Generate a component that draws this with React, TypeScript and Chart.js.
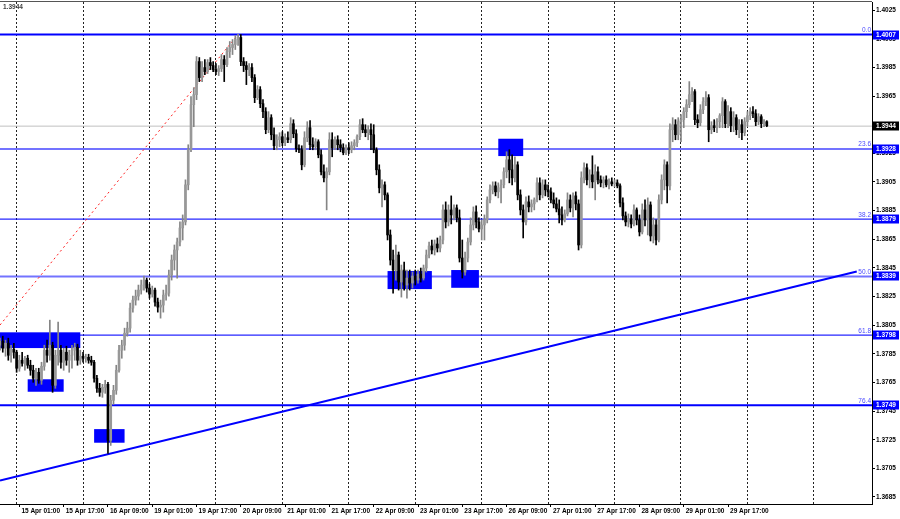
import React, { useEffect, useRef } from "react";
import { Chart, registerables } from "chart.js";

Chart.register(...registerables);

// ---- DATA ----
// bar index 0 = 15 Apr 01:00 (H1 bars); first bar shown has index -7
const FIRST_BAR = -7;

const opens = [
  1.37910,1.37938,1.37889,1.37924,1.37840,1.37882,1.37861,1.37749,1.37805,1.37784,
  1.37819,1.37770,1.37735,1.37679,1.37721,1.37665,1.37763,1.37875,1.37840,1.37910,
  1.37630,1.37840,1.37875,1.37791,1.37861,1.37805,1.37840,1.37875,1.37896,1.37805,
  1.37833,1.37819,1.37826,1.37805,1.37791,1.37679,1.37609,1.37581,1.37616,1.37637,
  1.37245,1.37525,1.37595,1.37735,1.37875,1.37910,1.37994,1.38029,1.38169,1.38225,
  1.38253,1.38295,1.38330,1.38365,1.38309,1.38267,1.38295,1.38211,1.38176,1.38190,
  1.38260,1.38274,1.38400,1.38505,1.38575,1.38631,1.38729,1.38771,1.39030,1.39275,
  1.39590,1.39660,1.39891,1.39779,1.39849,1.39821,1.39884,1.39863,1.39835,1.39821,
  1.39842,1.39905,1.39870,1.39961,1.39989,1.40010,1.40045,1.40059,1.39891,1.39863,
  1.39835,1.39849,1.39779,1.39639,1.39695,1.39597,1.39541,1.39415,1.39499,1.39380,
  1.39303,1.39345,1.39366,1.39324,1.39359,1.39345,1.39457,1.39387,1.39282,1.39275,
  1.39170,1.39359,1.39429,1.39310,1.39296,1.39331,1.39240,1.39121,1.39079,1.39121,
  1.39345,1.39289,1.39345,1.39310,1.39289,1.39254,1.39289,1.39275,1.39303,1.39324,
  1.39366,1.39450,1.39415,1.39394,1.39415,1.39380,1.39275,1.39135,1.39009,1.39030,
  1.38960,1.38680,1.38505,1.38435,1.38540,1.38351,1.38435,1.38330,1.38379,1.38344,
  1.38393,1.38365,1.38407,1.38379,1.38449,1.38540,1.38603,1.38575,1.38617,1.38589,
  1.38645,1.38855,1.38771,1.38855,1.38820,1.38869,1.38799,1.38519,1.38421,1.38519,
  1.38631,1.38750,1.38841,1.38771,1.38722,1.38750,1.38785,1.38925,1.38995,1.39023,
  1.38981,1.39009,1.39030,1.39121,1.39205,1.39135,1.39079,1.39170,1.38960,1.38855,
  1.38771,1.38911,1.38876,1.38897,1.38925,1.39044,1.38960,1.39030,1.38995,1.38981,
  1.38925,1.38897,1.38862,1.38820,1.38785,1.38827,1.38925,1.38869,1.38953,1.38897,
  1.38610,1.39079,1.39149,1.39065,1.39100,1.39051,1.39121,1.39065,1.39044,1.39065,
  1.39030,1.39051,1.39037,1.39044,1.39023,1.38904,1.38813,1.38771,1.38792,1.38757,
  1.38855,1.38785,1.38701,1.38855,1.38785,1.38890,1.38673,1.38750,1.38645,1.38925,
  1.39065,1.39170,1.39023,1.39415,1.39450,1.39380,1.39471,1.39485,1.39541,1.39590,
  1.39660,1.39681,1.39485,1.39464,1.39555,1.39611,1.39639,1.39415,1.39443,1.39429,
  1.39471,1.39513,1.39611,1.39457,1.39541,1.39443,1.39499,1.39415,1.39450,1.39394,
  1.39471,1.39513,1.39541,1.39527,1.39471,1.39506,1.39457,1.39471,
];

const highs = [
  1.37959,1.37973,1.37945,1.37959,1.37910,1.37924,1.37875,1.37840,1.37861,1.37833,
  1.37840,1.37805,1.37770,1.37749,1.37749,1.37791,1.37910,1.37945,1.38085,1.37931,
  1.37875,1.38071,1.37910,1.37889,1.37903,1.37875,1.37910,1.37924,1.37917,1.37875,
  1.37861,1.37847,1.37847,1.37833,1.37805,1.37700,1.37644,1.37637,1.37665,1.37651,
  1.37560,1.37630,1.37770,1.37910,1.37945,1.38029,1.38071,1.38204,1.38253,1.38295,
  1.38330,1.38365,1.38393,1.38379,1.38337,1.38323,1.38309,1.38239,1.38225,1.38295,
  1.38330,1.38435,1.38540,1.38610,1.38659,1.38771,1.38820,1.39065,1.39310,1.39646,
  1.39709,1.39926,1.39919,1.39891,1.39905,1.39905,1.39919,1.39891,1.39877,1.39863,
  1.39940,1.39933,1.39989,1.40031,1.40045,1.40073,1.40082,1.40080,1.39919,1.39891,
  1.39877,1.39877,1.39800,1.39723,1.39716,1.39625,1.39569,1.39541,1.39520,1.39429,
  1.39380,1.39394,1.39401,1.39387,1.39401,1.39499,1.39485,1.39415,1.39310,1.39303,
  1.39401,1.39471,1.39478,1.39359,1.39352,1.39345,1.39275,1.39170,1.39149,1.39394,
  1.39394,1.39366,1.39373,1.39345,1.39317,1.39310,1.39324,1.39331,1.39345,1.39380,
  1.39485,1.39492,1.39450,1.39443,1.39457,1.39450,1.39289,1.39170,1.39065,1.39051,
  1.38974,1.38715,1.38575,1.38610,1.38561,1.38470,1.38491,1.38435,1.38435,1.38421,
  1.38435,1.38435,1.38449,1.38470,1.38575,1.38631,1.38645,1.38645,1.38659,1.38673,
  1.38890,1.38911,1.38890,1.38953,1.38890,1.38890,1.38855,1.38645,1.38561,1.38659,
  1.38799,1.38876,1.38883,1.38799,1.38785,1.38820,1.38946,1.39030,1.39051,1.39051,
  1.39044,1.39065,1.39149,1.39261,1.39275,1.39240,1.39226,1.39191,1.38995,1.38890,
  1.38946,1.38953,1.38925,1.38939,1.39079,1.39079,1.39065,1.39065,1.39030,1.39009,
  1.38974,1.38939,1.38925,1.38876,1.38855,1.38974,1.38960,1.38974,1.38981,1.38925,
  1.39121,1.39184,1.39177,1.39135,1.39233,1.39170,1.39156,1.39093,1.39086,1.39093,
  1.39072,1.39079,1.39065,1.39065,1.39037,1.38939,1.38841,1.38827,1.38820,1.38890,
  1.38869,1.38820,1.38897,1.38925,1.38939,1.38911,1.38799,1.38785,1.38960,1.39100,
  1.39205,1.39191,1.39457,1.39499,1.39485,1.39499,1.39520,1.39569,1.39625,1.39751,
  1.39709,1.39695,1.39520,1.39590,1.39639,1.39681,1.39660,1.39471,1.39485,1.39492,
  1.39527,1.39639,1.39625,1.39583,1.39569,1.39541,1.39520,1.39485,1.39485,1.39499,
  1.39541,1.39569,1.39576,1.39555,1.39527,1.39520,1.39485,1.39478,
];

const lows = [
  1.37875,1.37861,1.37833,1.37805,1.37791,1.37819,1.37721,1.37728,1.37763,1.37735,
  1.37749,1.37700,1.37651,1.37630,1.37644,1.37637,1.37735,1.37791,1.37805,1.37581,
  1.37609,1.37770,1.37749,1.37735,1.37770,1.37721,1.37749,1.37805,1.37770,1.37777,
  1.37791,1.37791,1.37784,1.37770,1.37651,1.37581,1.37553,1.37546,1.37574,1.37154,
  1.37210,1.37497,1.37567,1.37721,1.37819,1.37875,1.37973,1.38001,1.38141,1.38190,
  1.38225,1.38267,1.38295,1.38281,1.38239,1.38246,1.38183,1.38141,1.38099,1.38141,
  1.38225,1.38253,1.38365,1.38435,1.38379,1.38603,1.38645,1.38750,1.38995,1.39261,
  1.39436,1.39625,1.39751,1.39751,1.39800,1.39807,1.39835,1.39821,1.39800,1.39793,
  1.39821,1.39751,1.39856,1.39919,1.39940,1.39975,1.40003,1.39863,1.39821,1.39730,
  1.39793,1.39751,1.39604,1.39625,1.39569,1.39499,1.39387,1.39394,1.39345,1.39275,
  1.39275,1.39296,1.39303,1.39303,1.39324,1.39324,1.39359,1.39261,1.39254,1.39135,
  1.39156,1.39331,1.39275,1.39275,1.39275,1.39219,1.39100,1.39051,1.38855,1.39100,
  1.39226,1.39275,1.39275,1.39261,1.39240,1.39240,1.39247,1.39254,1.39275,1.39296,
  1.39345,1.39394,1.39366,1.39345,1.39275,1.39254,1.39100,1.38974,1.38876,1.38925,
  1.38645,1.38470,1.38274,1.38365,1.38295,1.38246,1.38295,1.38239,1.38295,1.38309,
  1.38330,1.38344,1.38351,1.38365,1.38421,1.38519,1.38547,1.38540,1.38561,1.38561,
  1.38617,1.38729,1.38743,1.38757,1.38785,1.38771,1.38491,1.38379,1.38400,1.38491,
  1.38610,1.38715,1.38729,1.38701,1.38645,1.38645,1.38764,1.38904,1.38967,1.38953,
  1.38939,1.38904,1.39009,1.39079,1.39044,1.39030,1.39051,1.38925,1.38820,1.38659,
  1.38750,1.38841,1.38841,1.38855,1.38911,1.38925,1.38939,1.38953,1.38946,1.38904,
  1.38869,1.38841,1.38764,1.38750,1.38771,1.38813,1.38841,1.38806,1.38855,1.38575,
  1.38589,1.39044,1.39030,1.39009,1.39009,1.38925,1.39037,1.39016,1.39009,1.39016,
  1.39002,1.39023,1.39016,1.39009,1.38876,1.38785,1.38743,1.38736,1.38729,1.38743,
  1.38750,1.38673,1.38687,1.38743,1.38680,1.38638,1.38624,1.38610,1.38631,1.38897,
  1.38995,1.38904,1.38995,1.39331,1.39345,1.39345,1.39331,1.39429,1.39499,1.39569,
  1.39611,1.39450,1.39429,1.39443,1.39527,1.39583,1.39331,1.39387,1.39401,1.39394,
  1.39429,1.39429,1.39429,1.39429,1.39401,1.39401,1.39380,1.39359,1.39345,1.39373,
  1.39443,1.39485,1.39499,1.39443,1.39450,1.39429,1.39436,1.39436,
];

const closes = [
  1.37938,1.37889,1.37924,1.37840,1.37882,1.37861,1.37749,1.37805,1.37784,1.37819,
  1.37770,1.37735,1.37679,1.37721,1.37665,1.37763,1.37875,1.37840,1.37910,1.37630,
  1.37840,1.37875,1.37791,1.37861,1.37805,1.37840,1.37875,1.37896,1.37805,1.37833,
  1.37819,1.37826,1.37805,1.37791,1.37679,1.37609,1.37581,1.37616,1.37637,1.37245,
  1.37525,1.37595,1.37735,1.37875,1.37910,1.37994,1.38029,1.38169,1.38225,1.38253,
  1.38295,1.38330,1.38365,1.38309,1.38267,1.38295,1.38211,1.38176,1.38190,1.38260,
  1.38274,1.38400,1.38505,1.38575,1.38631,1.38729,1.38771,1.39030,1.39275,1.39590,
  1.39660,1.39891,1.39779,1.39849,1.39821,1.39884,1.39863,1.39835,1.39821,1.39842,
  1.39905,1.39870,1.39961,1.39989,1.40010,1.40045,1.40059,1.39891,1.39863,1.39835,
  1.39849,1.39779,1.39639,1.39695,1.39597,1.39541,1.39415,1.39499,1.39380,1.39303,
  1.39345,1.39366,1.39324,1.39359,1.39345,1.39457,1.39387,1.39282,1.39275,1.39170,
  1.39359,1.39429,1.39310,1.39296,1.39331,1.39240,1.39121,1.39079,1.39121,1.39345,
  1.39289,1.39345,1.39310,1.39289,1.39254,1.39289,1.39275,1.39303,1.39324,1.39366,
  1.39450,1.39415,1.39394,1.39415,1.39380,1.39275,1.39135,1.39009,1.39030,1.38960,
  1.38680,1.38505,1.38435,1.38540,1.38351,1.38435,1.38330,1.38379,1.38344,1.38393,
  1.38365,1.38407,1.38379,1.38449,1.38540,1.38603,1.38575,1.38617,1.38589,1.38645,
  1.38855,1.38771,1.38855,1.38820,1.38869,1.38799,1.38519,1.38421,1.38519,1.38631,
  1.38750,1.38841,1.38771,1.38722,1.38750,1.38785,1.38925,1.38995,1.39023,1.38981,
  1.39009,1.39030,1.39121,1.39205,1.39135,1.39079,1.39170,1.38960,1.38855,1.38771,
  1.38911,1.38876,1.38897,1.38925,1.39044,1.38960,1.39030,1.38995,1.38981,1.38925,
  1.38897,1.38862,1.38820,1.38785,1.38827,1.38925,1.38869,1.38953,1.38897,1.38610,
  1.39079,1.39149,1.39065,1.39100,1.39051,1.39121,1.39065,1.39044,1.39065,1.39030,
  1.39051,1.39037,1.39044,1.39023,1.38904,1.38813,1.38771,1.38792,1.38757,1.38855,
  1.38785,1.38701,1.38855,1.38785,1.38890,1.38673,1.38750,1.38645,1.38925,1.39065,
  1.39170,1.39023,1.39415,1.39450,1.39380,1.39471,1.39485,1.39541,1.39590,1.39660,
  1.39681,1.39485,1.39464,1.39555,1.39611,1.39639,1.39415,1.39443,1.39429,1.39471,
  1.39513,1.39611,1.39457,1.39541,1.39443,1.39499,1.39415,1.39450,1.39394,1.39471,
  1.39513,1.39541,1.39527,1.39471,1.39506,1.39457,1.39471,1.39443,
];

// time axis labels (bar index of each label) and daily separators
const xTickIndex = [0, 16, 32, 48, 64, 80, 96, 112, 128, 144, 160, 176, 192, 208, 224, 240, 256];
const xTickLabels = [
  "15 Apr 01:00", "15 Apr 17:00", "16 Apr 09:00", "19 Apr 01:00", "19 Apr 17:00",
  "20 Apr 09:00", "21 Apr 01:00", "21 Apr 17:00", "22 Apr 09:00", "23 Apr 01:00",
  "23 Apr 17:00", "26 Apr 09:00", "27 Apr 01:00", "27 Apr 17:00", "28 Apr 09:00",
  "29 Apr 01:00", "29 Apr 17:00",
];
const dayGridIndex = [-1, 23, 47, 71, 95, 119, 143, 167, 191, 215, 239, 263, 287];

const yTicks = [
  1.3685, 1.3705, 1.3725, 1.3745, 1.3765, 1.3785, 1.3805, 1.3825, 1.3845,
  1.3865, 1.3885, 1.3905, 1.3925, 1.3945, 1.3965, 1.3985, 1.4005, 1.4025,
];

// Fibonacci levels
const fibNames = ["0.0", "23.6", "38.2", "50.0", "61.8", "76.4"];
const fibPrices = [1.4008, 1.3928, 1.3879, 1.3839, 1.3798, 1.3749];
const fibTags = ["1.4007", "1.3928", "1.3879", "1.3839", "1.3798", "1.3749"];
const lastPrice = 1.3944;
const lastPriceTag = "1.3944";

// blue zones: start bar, end bar, low price, high price
const boxStart = [-7, 3, 27, 133, 156, 173];
const boxEnd = [22, 16, 38, 149, 166, 182];
const boxLow = [1.3789, 1.37585, 1.37229, 1.38302, 1.38311, 1.39231];
const boxHigh = [1.38, 1.37672, 1.37324, 1.38428, 1.38435, 1.39352];

// trend line and fibonacci base line (bar index, price)
const trendX = [-7, 302.5];
const trendY = [1.36965, 1.38425];
const fibBaseX = [-7, 79];
const fibBaseY = [1.38051, 1.4008];

const X_MIN = -7;
const X_MAX = 308;
const Y_MIN = 1.36801;
const Y_MAX = 1.40307;

// ---- STYLES ----
const FONT_FAMILY = "'Liberation Sans', Arial, sans-serif";
const FONT_SIZE = 6.5;
const FONT_WEIGHT = "bold";
const fibColors = ["#0000ff", "rgba(0,0,255,0.55)", "rgba(0,0,255,0.85)", "rgba(0,0,255,0.55)", "rgba(0,0,255,0.85)", "#0000ff"];
const fibWidths = [2, 2, 1.2, 2, 1.2, 2];

export default function App() {
  const canvasRef = useRef<HTMLCanvasElement | null>(null);

  useEffect(() => {
    document.body.style.margin = "0";
    const canvas = canvasRef.current;
    if (!canvas) return;

    const bull = closes.map((c, k) => c > opens[k]);
    const bodyData = opens.map((o, k) => ({ x: FIRST_BAR + k, y: [o, closes[k]] }));
    const wickData = lows.map((l, k) => ({ x: FIRST_BAR + k, y: [l, highs[k]] }));

    const levelDatasets: any[] = fibPrices.map((p, k) => ({
      type: "line",
      label: "fib " + fibNames[k],
      data: [{ x: X_MIN, y: p }, { x: X_MAX, y: p }],
      borderColor: fibColors[k],
      borderWidth: fibWidths[k],
      pointRadius: 0,
      fill: false,
      order: 3,
    }));

    const overlay = {
      id: "overlay",
      beforeDatasetsDraw(chart: any) {
        const { ctx, chartArea, scales } = chart;
        const xs = scales.x, ys = scales.y;
        ctx.save();
        ctx.beginPath();
        ctx.rect(chartArea.left, chartArea.top, chartArea.right - chartArea.left, chartArea.bottom - chartArea.top);
        ctx.clip();
        ctx.fillStyle = "#0000ff";
        boxStart.forEach((s, k) => {
          const x0 = xs.getPixelForValue(s);
          const x1 = xs.getPixelForValue(boxEnd[k]);
          const y0 = ys.getPixelForValue(boxHigh[k]);
          const y1 = ys.getPixelForValue(boxLow[k]);
          ctx.fillRect(x0, y0, x1 - x0, y1 - y0);
        });
        ctx.restore();
      },
      afterDraw(chart: any) {
        const { ctx, chartArea, scales } = chart;
        const ys = scales.y;
        ctx.save();
        // top frame line
        ctx.strokeStyle = "#555";
        ctx.lineWidth = 1;
        ctx.beginPath();
        ctx.moveTo(0, chartArea.top - 0.5);
        ctx.lineTo(chartArea.right, chartArea.top - 0.5);
        ctx.stroke();

        ctx.font = `${FONT_SIZE}px ${FONT_FAMILY}`;
        // fib level names
        ctx.textAlign = "right";
        ctx.textBaseline = "bottom";
        ctx.fillStyle = "rgba(40,40,255,0.85)";
        fibPrices.forEach((p, k) => {
          const py = ys.getPixelForValue(p);
          ctx.fillText(fibNames[k], chartArea.right - 1, py - 1.2);
        });
        // price tags on the axis
        ctx.font = `${FONT_WEIGHT} ${FONT_SIZE}px ${FONT_FAMILY}`;
        ctx.textAlign = "left";
        ctx.textBaseline = "middle";
        const drawTag = (p: number, text: string, bg: string) => {
          const py = ys.getPixelForValue(p);
          ctx.fillStyle = bg;
          ctx.fillRect(chartArea.right + 1, Math.round(py) - 4.5, 26, 9);
          ctx.fillStyle = "#ffffff";
          ctx.fillText(text, chartArea.right + 4, Math.round(py));
        };
        fibPrices.forEach((p, k) => drawTag(p, fibTags[k], "#0000ff"));
        drawTag(lastPrice, lastPriceTag, "#000000");
        // symbol price at top-left
        ctx.fillStyle = "#404040";
        ctx.fillText(lastPriceTag, 3, 7.5);
        ctx.restore();
      },
    };

    const font = { family: FONT_FAMILY, size: FONT_SIZE, weight: FONT_WEIGHT };

    const chart = new Chart(canvas, {
      type: "bar",
      data: {
        datasets: [
          {
            type: "bar",
            label: "body",
            data: bodyData as any,
            backgroundColor: bull.map((b) => (b ? "#989898" : "#000000")),
            borderWidth: 0,
            barThickness: 2,
            minBarLength: 1,
            grouped: false,
            order: 0,
          } as any,
          {
            type: "bar",
            label: "wick",
            data: wickData as any,
            backgroundColor: bull.map((b) => (b ? "#858585" : "#000000")),
            borderWidth: 0,
            barThickness: 1,
            grouped: false,
            order: 1,
          } as any,
          {
            type: "line",
            label: "price",
            data: [{ x: X_MIN, y: lastPrice }, { x: X_MAX, y: lastPrice }],
            borderColor: "#c0c0c0",
            borderWidth: 1,
            pointRadius: 0,
            fill: false,
            order: 4,
          } as any,
          ...levelDatasets,
          {
            type: "line",
            label: "trend",
            data: trendX.map((x, k) => ({ x, y: trendY[k] })),
            borderColor: "#0000ff",
            borderWidth: 2,
            pointRadius: 0,
            fill: false,
            order: 2,
          } as any,
          {
            type: "line",
            label: "fib base",
            data: fibBaseX.map((x, k) => ({ x, y: fibBaseY[k] })),
            borderColor: "#ff2020",
            borderWidth: 1,
            borderDash: [2, 3],
            pointRadius: 0,
            fill: false,
            order: 2,
          } as any,
        ],
      },
      options: {
        responsive: false,
        animation: false,
        events: [],
        layout: { padding: { top: 2, left: 0, right: 0, bottom: 0 } },
        plugins: {
          legend: { display: false },
          tooltip: { enabled: false },
        },
        scales: {
          x: {
            type: "linear",
            position: "bottom",
            min: X_MIN,
            max: X_MAX,
            offset: false,
            afterBuildTicks: (s: any) => {
              s.ticks = xTickIndex.map((v) => ({ value: v }));
            },
            afterFit: (s: any) => {
              s.height = 15;
              s.paddingLeft = 0;
              s.paddingRight = 0;
            },
            ticks: {
              autoSkip: false,
              maxRotation: 0,
              minRotation: 0,
              align: "start",
              labelOffset: 2,
              padding: 0.5,
              color: "#000",
              font,
              callback: (_v: any, i: number) => xTickLabels[i],
            },
            grid: { drawOnChartArea: false, drawTicks: true, tickLength: 3, color: "#000", offset: false },
            border: { display: true, color: "#000", width: 1 },
          } as any,
          x2: {
            type: "linear",
            position: "bottom",
            min: X_MIN,
            max: X_MAX,
            offset: false,
            afterBuildTicks: (s: any) => {
              s.ticks = dayGridIndex.map((v) => ({ value: v }));
            },
            afterFit: (s: any) => {
              s.height = 0;
              s.paddingLeft = 0;
              s.paddingRight = 0;
            },
            ticks: { display: false },
            grid: { drawOnChartArea: true, drawTicks: false, color: "#222", lineWidth: 1, offset: false },
            border: { display: false, dash: [2, 2] },
          } as any,
          y: {
            type: "linear",
            position: "right",
            min: Y_MIN,
            max: Y_MAX,
            afterBuildTicks: (s: any) => {
              s.ticks = yTicks.map((v) => ({ value: v }));
            },
            afterFit: (s: any) => {
              s.width = 28;
              s.paddingTop = 0;
              s.paddingBottom = 0;
            },
            ticks: {
              autoSkip: false,
              padding: 1,
              color: "#000",
              font,
              callback: (v: any) => Number(v).toFixed(4),
            },
            grid: { drawOnChartArea: false, drawTicks: true, tickLength: 3, color: "#000" },
            border: { display: true, color: "#000", width: 1 },
          } as any,
        },
      } as any,
      plugins: [overlay],
    });

    return () => chart.destroy();
  }, []);

  return (
    <div style={{ width: 900, height: 519, position: "relative", background: "#fff" }}>
      <canvas ref={canvasRef} width={900} height={519} style={{ display: "block" }} />
    </div>
  );
}
